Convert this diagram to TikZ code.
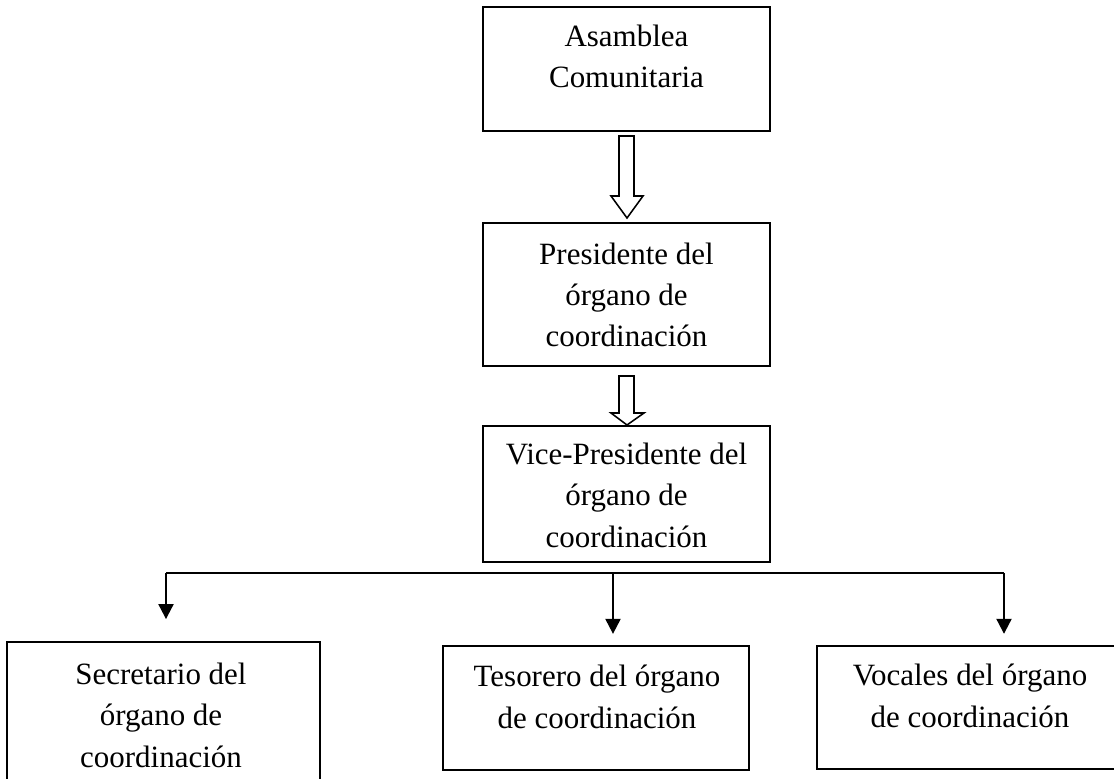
\documentclass[tikz,border=0pt]{standalone}
\usepackage{fontspec}
\setmainfont{Liberation Serif}
\usetikzlibrary{arrows.meta}
\begin{document}
\begin{tikzpicture}[x=0.3875pt,y=-0.3875pt,
 box/.style={draw,line width=0.8pt,inner sep=0pt},
 txt/.style={align=center,font=\fontsize{12pt}{16pt}\selectfont,inner sep=0pt},
 conn/.style={line width=0.8pt},
 arr/.style={line width=0.8pt,-{Triangle[width=5.8pt,length=5.8pt]}},
 hollow/.style={draw,line width=0.6pt,fill=white,line join=miter}]
\clip (0,0) rectangle (1114,779);
\useasboundingbox (0,0) rectangle (1114,779);
% boxes
\node[box,minimum width=111.2pt,minimum height=48.05pt] (asam) at (626.5,69) {};
\node[box,minimum width=111.2pt,minimum height=55.4pt] (pres) at (626.5,294.5) {};
\node[box,minimum width=111.2pt,minimum height=52.7pt] (vice) at (626.5,494) {};
\node[box,minimum width=121.3pt,minimum height=61.2pt] (secr) at (163.5,721) {};
\node[box,minimum width=118.6pt,minimum height=48.05pt] (teso) at (596,708) {};
\node[box,minimum width=118.6pt,minimum height=47.7pt] (voca) at (970,707.5) {};
% texts (base anchor = baseline of the last line)
\node[txt,anchor=base] (asamT) at (626.5,88) {Asamblea\\Comunitaria};
\node[txt,anchor=base] (presT) at (626.5,347) {Presidente del\\órgano de\\coordinación};
\node[txt,anchor=base] (viceT) at (626.5,547) {Vice-Presidente del\\órgano de\\coordinación};
\node[txt,anchor=base] (secrT) at (161,767) {Secretario del\\órgano de\\coordinación};
\node[txt,anchor=base] (tesoT) at (597,728) {Tesorero del órgano\\de coordinación};
\node[txt,anchor=base] (vocaT) at (970,727) {Vocales del órgano\\de coordinación};
% hollow arrows
\draw[hollow] (619,136) -- (634,136) -- (634,196) -- (643,196) -- (627,218) -- (611,196) -- (619,196) -- cycle;
\draw[hollow] (619,376) -- (634,376) -- (634,413) -- (644,413) -- (627,425) -- (611,413) -- (619,413) -- cycle;
% distribution line
\coordinate (hL) at (166,573);
\coordinate (hM) at (613,573);
\coordinate (hR) at (1004,573);
\draw[conn] (hL) -- (hR);
\draw[arr,shorten >=8.5pt] (hL) -- (hL |- secr.north);
\draw[arr,shorten >=4.3pt] (hM) -- (hM |- teso.north);
\draw[arr,shorten >=4.3pt] (hR) -- (hR |- voca.north);
\end{tikzpicture}
\end{document}
